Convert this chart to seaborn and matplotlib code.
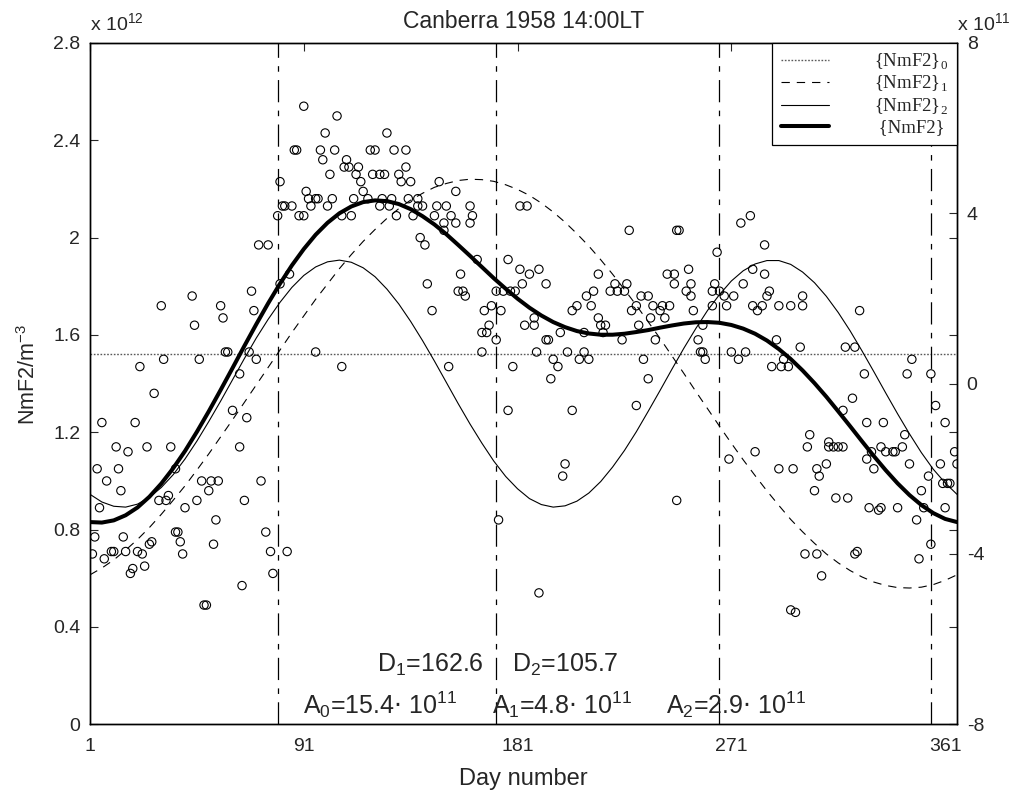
import matplotlib
matplotlib.use("Agg")
import matplotlib.pyplot as plt
from matplotlib.lines import Line2D
import seaborn as sns

sns.set_style("white")
plt.rcParams["font.family"] = ["Liberation Sans", "DejaVu Sans"]
plt.rcParams["lines.scale_dashes"] = False

# daily noon values of NmF2, x 10^12 m^-3
days_a = [70, 31, 44, 45, 56, 57, 58, 59, 68, 32, 47, 71, 64, 22, 28, 96, 107, 61,
          67, 6, 20, 12, 17, 25, 35, 64, 4, 13, 8, 14, 37, 48, 52, 55, 51, 73, 34,
          30, 33, 46, 41, 66, 5, 54, 37, 38, 75, 3, 15, 27, 26, 39, 53, 2, 10, 11,
          16, 21, 23, 7, 40, 77, 84, 24, 18, 19, 78, 65, 49, 50]
nmf2_a = [1.70, 1.72, 1.76, 1.64, 1.72, 1.67, 1.53, 1.53, 1.53, 1.50, 1.50, 1.50,
          1.44, 1.47, 1.36, 1.53, 1.47, 1.29, 1.26, 1.24, 1.24, 1.14, 1.12, 1.14,
          1.14, 1.14, 1.05, 1.05, 1.00, 0.96, 1.05, 1.00, 1.00, 1.00, 0.96, 1.00,
          0.94, 0.92, 0.92, 0.92, 0.89, 0.92, 0.89, 0.84, 0.79, 0.79, 0.79, 0.77,
          0.77, 0.75, 0.74, 0.75, 0.74, 0.70, 0.71, 0.71, 0.71, 0.71, 0.70, 0.68,
          0.70, 0.71, 0.71, 0.65, 0.62, 0.64, 0.62, 0.57, 0.49, 0.49]

days_b = [91, 105, 100, 126, 87, 88, 98, 104, 119, 121, 129, 134, 99, 109, 108, 110,
          114, 134, 102, 113, 120, 123, 125, 131, 132, 136, 115, 148, 81, 116, 92,
          155, 93, 96, 97, 103, 112, 118, 124, 128, 135, 139, 82, 83, 86, 94, 101,
          123, 127, 139, 141, 147, 151, 161, 182, 185, 80, 89, 91, 107, 111, 130,
          137, 146, 153, 162, 150, 155, 161, 150, 140, 142, 72, 76, 164, 177, 182,
          186, 190, 85, 157, 183, 143, 81, 69, 156, 158, 172, 175, 178, 180, 159,
          170, 145]
nmf2_b = [2.54, 2.50, 2.43, 2.43, 2.36, 2.36, 2.36, 2.36, 2.36, 2.36, 2.36, 2.36,
          2.32, 2.32, 2.29, 2.29, 2.29, 2.29, 2.26, 2.26, 2.26, 2.26, 2.26, 2.26,
          2.23, 2.23, 2.23, 2.23, 2.23, 2.19, 2.19, 2.19, 2.16, 2.16, 2.16, 2.16,
          2.16, 2.16, 2.16, 2.16, 2.16, 2.16, 2.13, 2.13, 2.13, 2.13, 2.13, 2.13,
          2.13, 2.13, 2.13, 2.13, 2.13, 2.13, 2.13, 2.13, 2.09, 2.09, 2.09, 2.09,
          2.09, 2.09, 2.09, 2.09, 2.09, 2.09, 2.06, 2.06, 2.06, 2.03, 2.00, 1.97,
          1.97, 1.97, 1.91, 1.91, 1.87, 1.85, 1.87, 1.85, 1.85, 1.81, 1.81, 1.81,
          1.78, 1.78, 1.78, 1.78, 1.78, 1.78, 1.78, 1.76, 1.72, 1.70]

days_c = [228, 248, 249, 193, 215, 244, 247, 247, 213, 220, 222, 227, 223, 226, 210,
          206, 204, 212, 233, 236, 231, 229, 238, 242, 245, 241, 215, 216, 218, 217,
          209, 199, 237, 243, 232, 225, 239, 193, 194, 202, 207, 209, 211, 196, 198,
          195, 234, 236, 231, 204, 201, 200, 248, 190, 184, 188, 188, 167, 174, 166,
          168, 169, 172, 166, 152, 179, 189, 177, 173]
nmf2_c = [2.03, 2.03, 2.03, 1.81, 1.85, 1.85, 1.85, 1.81, 1.78, 1.78, 1.81, 1.81,
          1.78, 1.78, 1.76, 1.72, 1.70, 1.72, 1.76, 1.76, 1.72, 1.70, 1.72, 1.72,
          1.72, 1.70, 1.67, 1.64, 1.64, 1.61, 1.61, 1.61, 1.67, 1.67, 1.64, 1.58,
          1.58, 1.58, 1.58, 1.53, 1.50, 1.53, 1.50, 1.50, 1.47, 1.42, 1.50, 1.42,
          1.31, 1.29, 1.07, 1.02, 0.92, 0.54, 1.64, 1.64, 1.67, 1.70, 1.70, 1.61,
          1.61, 1.64, 1.58, 1.53, 1.47, 1.47, 1.53, 1.29, 0.84]

days_d = [279, 275, 265, 285, 253, 254, 252, 254, 255, 264, 263, 266, 263, 268, 269,
          272, 259, 257, 258, 259, 260, 276, 280, 285, 280, 282, 284, 286, 287, 291,
          296, 301, 301, 290, 300, 271, 274, 277, 288, 293, 292, 295, 325, 319, 323,
          327, 347, 345, 355, 322, 318, 328, 335, 344, 357, 361, 304, 303, 312, 312,
          314, 316, 318, 311, 307, 308, 306, 315, 320, 291, 297, 281, 270, 328, 330,
          331, 334, 336, 339, 340, 343, 346, 329, 333, 334, 341, 349, 352, 351, 354,
          359, 360, 362, 363, 361, 365, 366, 355, 350, 302, 307, 309, 323, 324, 296,
          298]
nmf2_d = [2.09, 2.06, 1.94, 1.97, 1.87, 1.81, 1.78, 1.76, 1.70, 1.81, 1.78, 1.78,
          1.72, 1.76, 1.72, 1.76, 1.64, 1.58, 1.53, 1.53, 1.50, 1.81, 1.87, 1.85,
          1.72, 1.70, 1.72, 1.76, 1.78, 1.72, 1.72, 1.76, 1.72, 1.58, 1.55, 1.53,
          1.50, 1.53, 1.47, 1.50, 1.47, 1.47, 1.70, 1.55, 1.55, 1.44, 1.50, 1.44,
          1.44, 1.34, 1.29, 1.24, 1.24, 1.19, 1.31, 1.24, 1.19, 1.14, 1.16, 1.14,
          1.14, 1.14, 1.14, 1.07, 1.05, 1.02, 0.96, 0.93, 0.93, 1.05, 1.05, 1.12,
          1.09, 1.09, 1.12, 1.05, 1.14, 1.12, 1.12, 1.12, 1.14, 1.07, 0.89, 0.88,
          0.89, 0.89, 0.84, 0.89, 0.96, 1.02, 1.07, 0.99, 0.99, 0.99, 0.89, 1.12,
          1.07, 0.74, 0.68, 0.70, 0.70, 0.61, 0.70, 0.71, 0.47, 0.46]

# fitted components, read every 5 days
curve_day = [1, 6, 11, 16, 21, 26, 31, 36, 41, 46, 51, 56, 61, 66, 71, 76, 81, 86,
             91, 96, 101, 106, 111, 116, 121, 126, 131, 136, 141, 146, 151, 156,
             161, 166, 171, 176, 181, 186, 191, 196, 201, 206, 211, 216, 221, 226,
             231, 236, 241, 246, 251, 256, 261, 266, 271, 276, 281, 286, 291, 296,
             301, 306, 311, 316, 321, 326, 331, 336, 341, 346, 351, 356, 361, 366]
nmf2_mean = 1.52  # {NmF2}_0, x 10^12
nmf2_annual = [-4.49, -4.33, -4.14, -3.91, -3.66, -3.38, -3.07, -2.74, -2.40, -2.03,
               -1.65, -1.25, -0.85, -0.44, -0.03, 0.38, 0.79, 1.20, 1.59, 1.98,
               2.34, 2.70, 3.03, 3.34, 3.62, 3.88, 4.11, 4.31, 4.47, 4.61,
               4.70, 4.77, 4.80, 4.79, 4.75, 4.67, 4.56, 4.42, 4.24, 4.03,
               3.79, 3.52, 3.23, 2.91, 2.57, 2.21, 1.84, 1.45, 1.06, 0.65,
               0.24, -0.18, -0.59, -1.00, -1.40, -1.79, -2.16, -2.52, -2.86, -3.19,
               -3.48, -3.75, -4.00, -4.21, -4.39, -4.54, -4.66, -4.74, -4.79, -4.80,
               -4.78, -4.72, -4.62, -4.49]  # {NmF2}_1, x 10^11
nmf2_semi = [-2.60, -2.78, -2.88, -2.90, -2.83, -2.67, -2.44, -2.14, -1.77, -1.35,
             -0.89, -0.41, 0.09, 0.59, 1.07, 1.51, 1.91, 2.26, 2.54, 2.74,
             2.86, 2.90, 2.85, 2.72, 2.51, 2.22, 1.87, 1.46, 1.01, 0.53,
             0.03, -0.47, -0.95, -1.40, -1.82, -2.18, -2.47, -2.70, -2.84, -2.90,
             -2.87, -2.76, -2.57, -2.30, -1.96, -1.57, -1.13, -0.65, -0.16, 0.34,
             0.83, 1.29, 1.72, 2.09, 2.41, 2.65, 2.81, 2.89, 2.89, 2.80,
             2.62, 2.37, 2.05, 1.67, 1.24, 0.77, 0.28, -0.22, -0.71, -1.18,
             -1.62, -2.01, -2.33, -2.60]  # {NmF2}_2, x 10^11
nmf2_fit = [0.831, 0.829, 0.838, 0.859, 0.891, 0.935, 0.989, 1.052, 1.123, 1.202,
            1.286, 1.374, 1.464, 1.555, 1.644, 1.730, 1.811, 1.886, 1.953, 2.012,
            2.061, 2.100, 2.128, 2.146, 2.153, 2.150, 2.138, 2.117, 2.088, 2.054,
            2.014, 1.970, 1.925, 1.879, 1.833, 1.790, 1.749, 1.712, 1.680, 1.653,
            1.632, 1.616, 1.606, 1.601, 1.601, 1.605, 1.612, 1.620, 1.630, 1.639,
            1.647, 1.652, 1.653, 1.650, 1.641, 1.626, 1.605, 1.577, 1.542, 1.501,
            1.454, 1.402, 1.346, 1.286, 1.225, 1.163, 1.102, 1.044, 0.990, 0.942,
            0.901, 0.868, 0.844, 0.831]  # {NmF2}, x 10^12

season_days = [80, 172, 266, 355]
x_ticks = [1, 91, 181, 271, 361]
y_ticks = [0, 0.4, 0.8, 1.2, 1.6, 2.0, 2.4, 2.8]
y_labels = ["0", "0.4", "0.8", "1.2", "1.6", "2", "2.4", "2.8"]
y2_ticks = [-8, -4, 0, 4, 8]

fig = plt.figure(figsize=(10.17, 7.94), dpi=100)
ax = fig.add_axes([0.0885, 0.0878, 0.8525, 0.8581])
ax2 = ax.twinx()

all_days = days_a + days_b + days_c + days_d
all_nmf2 = nmf2_a + nmf2_b + nmf2_c + nmf2_d
sns.scatterplot(x=all_days, y=all_nmf2, ax=ax, marker="o", s=36,
                fc="none", ec="black", linewidth=0.8, zorder=3)

ax.axhline(nmf2_mean, color="0.35", lw=1.0, ls=(0, (1.2, 1.2)), zorder=2)
for d in season_days:
    ax.axvline(d, color="black", lw=0.9, ls=(0, (16, 6, 4, 6)), zorder=2)

sns.lineplot(x=curve_day, y=nmf2_fit, ax=ax, color="black", lw=2.9,
             estimator=None, sort=False, zorder=4)
sns.lineplot(x=curve_day, y=nmf2_annual, ax=ax2, color="black", lw=0.8,
             linestyle=(0, (6, 5)), estimator=None, sort=False)
sns.lineplot(x=curve_day, y=nmf2_semi, ax=ax2, color="black", lw=0.8,
             estimator=None, sort=False)

ax.set_xlim(1, 366)
ax.set_ylim(0, 2.8)
ax2.set_ylim(-8, 8)
ax.set_xticks(x_ticks)
ax.set_xticklabels([str(t) for t in x_ticks])
ax.set_yticks(y_ticks)
ax.set_yticklabels(y_labels)
ax2.set_yticks(y2_ticks)
ax2.set_yticklabels([str(t) for t in y2_ticks])

ax.tick_params(direction="in", length=5.5, width=0.8, top=True, right=True,
               labelsize=14, pad=7)
ax.tick_params(axis="x", pad=10)
ax2.tick_params(direction="in", length=5.5, width=0.8, labelsize=14, pad=7)
for a in (ax, ax2):
    for sp in a.spines.values():
        sp.set_linewidth(1.0)
        sp.set_color("black")

ax.set_xlabel("Day number", fontsize=17, labelpad=9)
ax.set_ylabel(r"NmF2/m$^{\mathregular{-3}}$", fontsize=15.5)
ax.yaxis.set_label_coords(-0.058, 0.513)
ax.set_title("Canberra 1958 14:00LT", fontsize=16.5, pad=11)

fig.text(90 / 1017, 1 - 31 / 794, r"x 10$^{\mathregular{12}}$", fontsize=14,
         va="baseline")
fig.text(957 / 1017, 1 - 31 / 794, r"x 10$^{\mathregular{11}}$", fontsize=14,
         va="baseline")

ann = dict(fontsize=18, va="baseline", ha="left")
ax.text(122, 0.216, r"D$_{\mathregular{1}}$=162.6", **ann)
ax.text(178.6, 0.216, r"D$_{\mathregular{2}}$=105.7", **ann)
ax.text(90.8, 0.044, r"A$_{\mathregular{0}}$=15.4$\cdot$ 10$^{\mathregular{11}}$", **ann)
ax.text(170.4, 0.044, r"A$_{\mathregular{1}}$=4.8$\cdot$ 10$^{\mathregular{11}}$", **ann)
ax.text(243.4, 0.044, r"A$_{\mathregular{2}}$=2.9$\cdot$ 10$^{\mathregular{11}}$", **ann)

handles = [
    Line2D([], [], color="0.35", lw=1.0, ls=(0, (1.2, 1.2))),
    Line2D([], [], color="black", lw=0.8, ls=(0, (6, 5))),
    Line2D([], [], color="black", lw=0.8),
    Line2D([], [], color="black", lw=2.9),
]
labels = [r"{NmF2}$_{\mathregular{0}}$", r"{NmF2}$_{\mathregular{1}}$",
          r"{NmF2}$_{\mathregular{2}}$", r" {NmF2}"]
leg = ax2.legend(handles, labels, loc="upper right", borderaxespad=0,
                 fancybox=False, edgecolor="black", framealpha=1,
                 prop={"family": "Liberation Serif", "size": 13.5},
                 handlelength=2.6, handletextpad=2.4, labelspacing=0.12,
                 borderpad=0.45)
leg.get_frame().set_linewidth(0.9)

fig.savefig("out.png", dpi=100)
